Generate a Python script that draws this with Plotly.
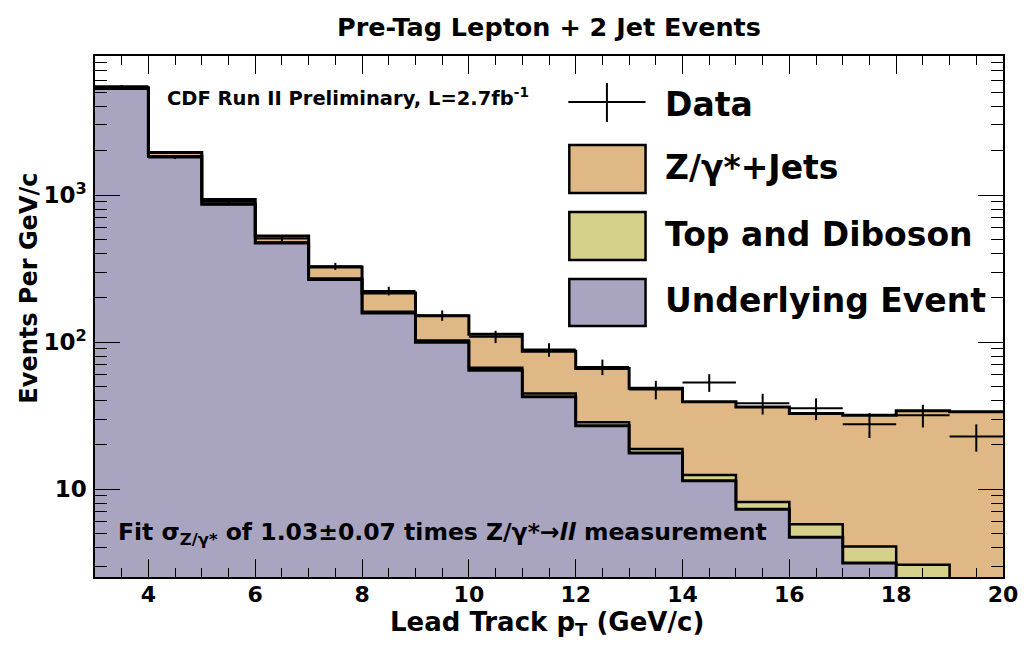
import numpy as np
import plotly.graph_objects as go

# ---------------- data ----------------
bin_edges = [3, 4, 5, 6, 7, 8, 9, 10, 11, 12, 13, 14, 15, 16, 17, 18, 19, 20]
underlying_event = [5300, 1830, 865, 472, 267, 158, 100, 64.5, 42.5, 27.0, 17.6, 11.4, 7.3, 4.72, 3.15, 2.2, 1.5]
top_diboson = [8, 6, 5, 4, 3.5, 3, 2.8, 2.5, 2.3, 1.5, 1.2, 1.1, 0.9, 1.06, 0.92, 0.86, 0.7]
z_jets = [72, 114, 65, 51, 53.5, 55, 48.7, 46, 41.8, 37.8, 29.7, 26.8, 28.0, 27.0, 27.8, 31.1, 31.4]
data_values = [5500, 1800, 900, 506, 328, 223, 152, 109, 89, 67.9, 47.7, 53.2, 38.4, 35.5, 27.6, 31.9, 22.8]
data_errors = [74, 42, 30, 22.5, 18, 15, 12.3, 10.4, 9.4, 8.2, 6.9, 7.3, 6.2, 6.0, 5.3, 5.6, 4.8]

x_ticks = [4, 6, 8, 10, 12, 14, 16, 18, 20]
y_ticks = [10, 100, 1000]
y_ticktext = ["10", "10<sup>2</sup>", "10<sup>3</sup>"]

C_UE = "#a9a5c1"
C_TOP = "#d5d08a"
C_Z = "#dfb886"
FONT = "DejaVu Sans"

edges = np.array(bin_edges, dtype=float)
centers = 0.5 * (edges[:-1] + edges[1:])
ue = np.array(underlying_event)
cum1 = ue
cum2 = ue + np.array(top_diboson)
cum3 = cum2 + np.array(z_jets)

BASE = 1.0  # below visible range on the log axis


def step_xy(vals):
    xs, ys = [], []
    for i, v in enumerate(vals):
        xs += [edges[i], edges[i + 1]]
        ys += [v, v]
    return xs, ys


def fill_trace(vals, color):
    xs, ys = step_xy(vals)
    xs = xs + [edges[-1], edges[0]]
    ys = ys + [BASE, BASE]
    return go.Scatter(x=xs, y=ys, fill="toself", fillcolor=color, mode="none",
                      hoverinfo="skip", showlegend=False)


def outline_trace(vals, width):
    xs, ys = step_xy(vals)
    return go.Scatter(x=xs, y=ys, mode="lines", line=dict(color="black", width=width),
                      hoverinfo="skip", showlegend=False)


fig = go.Figure()
fig.add_trace(fill_trace(cum3, C_Z))
fig.add_trace(fill_trace(cum2, C_TOP))
fig.add_trace(fill_trace(cum1, C_UE))
fig.add_trace(outline_trace(cum2, 2.5))
fig.add_trace(outline_trace(cum1, 3))
fig.add_trace(outline_trace(cum3, 3))
fig.add_trace(go.Scatter(
    x=centers, y=data_values, mode="markers",
    marker=dict(size=2, color="black"),
    error_x=dict(type="constant", value=0.5, width=0, thickness=2, color="black"),
    error_y=dict(type="data", array=data_errors, width=0, thickness=2, color="black"),
    showlegend=False, name="Data"))

# ---------------- layout ----------------
W, H = 1030, 646
L, R, T, B = 95, 18, 56, 69
PW, PH = W - L - R, H - T - B


def px(x):
    return (x - L) / PW


def py(y):
    return (H - B - y) / PH


minor_y = [m * 10 ** k for k in range(0, 4) for m in range(2, 10)]

fig.update_layout(
    width=W, height=H,
    margin=dict(l=L, r=R, t=T, b=B),
    paper_bgcolor="white", plot_bgcolor="white",
    showlegend=False,
    xaxis=dict(range=[3, 20], tickvals=x_ticks, ticks="inside", ticklen=18, tickwidth=1,
               tickcolor="black", showline=True, linecolor="black", linewidth=1.5,
               mirror="allticks", showgrid=False, zeroline=False,
               ticklabelstandoff=-3,
               tickfont=dict(family=FONT, size=22, color="black", weight="bold"),
               minor=dict(dtick=0.5, tick0=3, ticks="inside", ticklen=9, tickcolor="black", showgrid=False)),
    yaxis=dict(type="log", range=[0.403, 3.946], tickvals=y_ticks, ticktext=y_ticktext,
               ticks="inside", ticklen=25, tickwidth=1, tickcolor="black",
               showline=True, linecolor="black", linewidth=1.5, mirror="allticks",
               showgrid=False, zeroline=False, ticklabelstandoff=2,
               tickfont=dict(family=FONT, size=23, color="black", weight="bold"),
               minor=dict(tickvals=minor_y, ticks="inside", ticklen=12, tickcolor="black", showgrid=False)),
)

annotations = []
shapes = []


def ann(text, x, y, size, xanchor="left", yanchor="middle", angle=0):
    annotations.append(dict(text=text, x=px(x), y=py(y), xref="paper", yref="paper",
                            xanchor=xanchor, yanchor=yanchor, showarrow=False, textangle=angle,
                            font=dict(family=FONT, size=size, color="black", weight="bold")))


ann("Pre-Tag Lepton + 2 Jet Events", 554, 27, 25.5, xanchor="center")
ann("Lead Track p<sub>T</sub> (GeV/c)", 551, 623, 26, xanchor="center")
ann("Events Per GeV/c", 28, 288, 24, xanchor="center", angle=-90)
ann("CDF Run II Preliminary, L=2.7fb<sup>-1</sup>", 166, 97, 19.5)
ann("Fit σ<sub>Z/γ*</sub> of 1.03±0.07 times Z/γ*→<i>ll</i> measurement", 116, 533, 23.5)

# manual legend
shapes.append(dict(type="line", xref="paper", yref="paper", x0=px(573), x1=px(651), y0=py(102), y1=py(102),
                   line=dict(color="black", width=2)))
shapes.append(dict(type="line", xref="paper", yref="paper", x0=px(612), x1=px(612), y0=py(83), y1=py(122),
                   line=dict(color="black", width=2)))
ann("Data", 669, 104, 33)
for (y0, y1, col, label) in [(145, 193, C_Z, "Z/γ*+Jets"),
                             (212, 260, C_TOP, "Top and Diboson"),
                             (279, 326, C_UE, "Underlying Event")]:
    shapes.append(dict(type="rect", xref="paper", yref="paper", x0=px(574), x1=px(651),
                       y0=py(y1), y1=py(y0), fillcolor=col, line=dict(color="black", width=2.5)))
    ann(label, 669, (y0 + y1) / 2 - 2, 33)

fig.update_layout(annotations=annotations, shapes=shapes)

fig.write_html("out.html")
